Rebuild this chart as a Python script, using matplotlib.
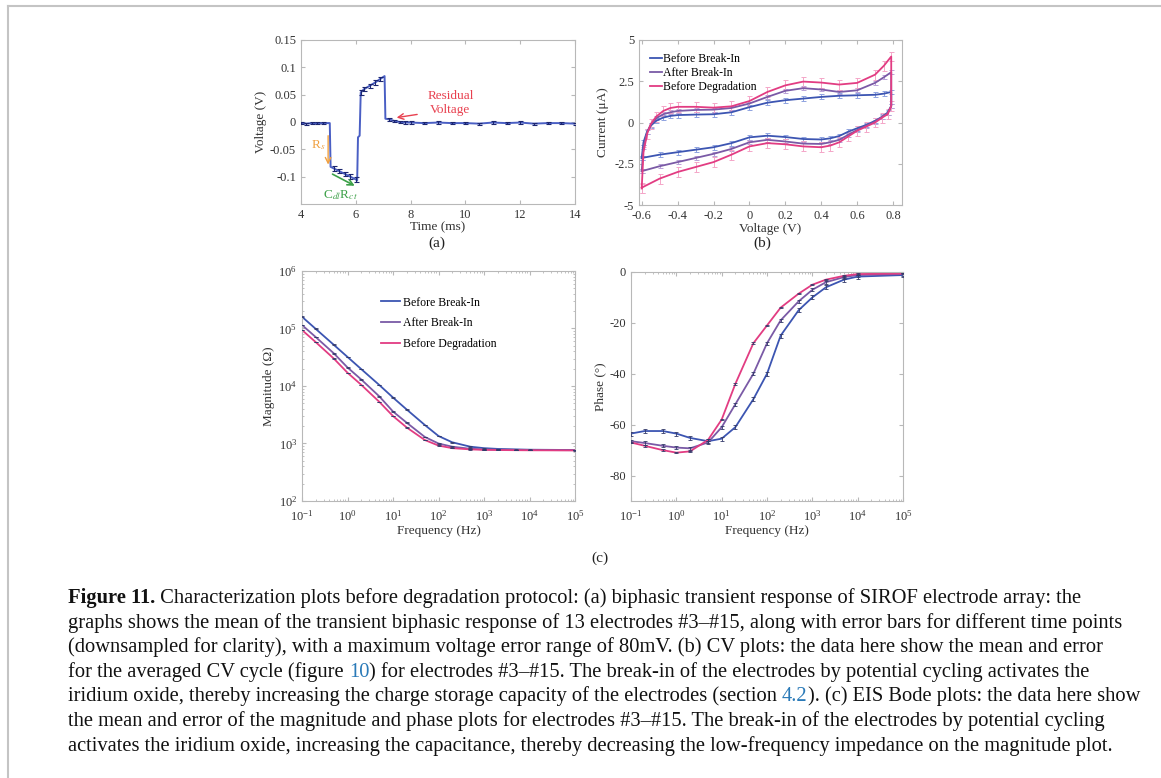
import matplotlib
matplotlib.use("Agg")
import matplotlib.pyplot as plt
from matplotlib.lines import Line2D
import numpy as np

plt.rcParams['font.family'] = ['Liberation Serif', 'DejaVu Serif']
plt.rcParams['mathtext.fontset'] = 'stix'
plt.rcParams['axes.unicode_minus'] = False

# ---- (a) biphasic transient ----
t_ms = [4.0, 4.2, 4.4, 4.6, 4.8, 5.0, 5.05, 5.08, 5.2, 5.4, 5.6, 5.8, 6.0, 6.05,
        6.08, 6.14, 6.18, 6.3, 6.5, 6.7, 6.9, 7.05, 7.08, 7.2, 7.4, 7.6, 7.8, 8.0,
        8.5, 9.0, 9.5, 10.0, 10.5, 11.0, 11.5, 12.0, 12.5, 13.0, 13.5, 14.0]
volt = [-0.002, -0.003, -0.002, -0.002, -0.002, -0.002, -0.002, -0.082, -0.085, -0.090,
        -0.095, -0.100, -0.105, -0.107, -0.028, -0.025, 0.054, 0.060, 0.066, 0.072,
        0.079, 0.084, 0.006, 0.005, 0.002, 0.0, -0.001, -0.001, -0.002, -0.001,
        -0.002, -0.002, -0.003, -0.001, -0.002, -0.001, -0.003, -0.002, -0.002, -0.003]
volt_err = [0.002, 0.002, 0.002, 0.002, 0.002, np.nan, np.nan, np.nan, 0.004, 0.004,
            0.004, 0.004, 0.004, np.nan, np.nan, np.nan, 0.004, 0.004, 0.004, 0.004,
            0.004, np.nan, np.nan, 0.003, 0.002, 0.002, 0.002, 0.002, 0.002, 0.002,
            0.002, 0.002, 0.002, 0.002, 0.002, 0.002, 0.002, 0.002, 0.002, 0.002]

# ---- (b) CV loops: forward scan then reverse scan ----
cv_v = [-0.60, -0.59, -0.57, -0.55, -0.52, -0.48, -0.44, -0.40, -0.30, -0.20, -0.10,
        0.00, 0.10, 0.20, 0.30, 0.40, 0.50, 0.60, 0.70, 0.75, 0.79,
        0.79, 0.77, 0.74, 0.70, 0.65, 0.60, 0.55, 0.50, 0.45, 0.40, 0.30, 0.20,
        0.10, 0.00, -0.10, -0.20, -0.30, -0.40, -0.50, -0.60]
cv_before = [-2.15, -1.2, -0.55, -0.2, 0.1, 0.3, 0.4, 0.45, 0.48, 0.5, 0.62,
             0.93, 1.2, 1.35, 1.45, 1.55, 1.62, 1.65, 1.68, 1.75, 1.85,
             1.0, 0.6, 0.35, 0.1, -0.15, -0.35, -0.56, -0.82, -0.96, -1.03, -1.0, -0.88,
             -0.8, -0.9, -1.25, -1.5, -1.65, -1.8, -1.95, -2.15]
cv_after = [-2.95, -1.5, -0.6, -0.15, 0.25, 0.5, 0.62, 0.7, 0.76, 0.78, 0.88,
            1.15, 1.55, 1.92, 2.08, 2.0, 1.85, 1.95, 2.4, 2.75, 3.05,
            1.0, 0.55, 0.35, 0.05, -0.2, -0.45, -0.75, -1.05, -1.2, -1.3, -1.28, -1.15,
            -1.05, -1.2, -1.6, -1.9, -2.15, -2.4, -2.65, -2.95]
cv_degr = [-4.0, -1.8, -0.7, -0.1, 0.35, 0.7, 0.88, 0.95, 0.95, 0.9, 0.98,
           1.3, 1.85, 2.25, 2.48, 2.42, 2.3, 2.4, 2.9, 3.45, 4.0,
           1.0, 0.5, 0.3, 0.0, -0.25, -0.5, -0.85, -1.2, -1.4, -1.5, -1.45, -1.32,
           -1.25, -1.45, -1.95, -2.4, -2.7, -3.0, -3.4, -3.95]
cv_err = [0.15, 0.12, 0.3]

# ---- (c) EIS Bode ----
freq = [0.1, 0.2, 0.5, 1, 2, 5, 10, 20, 50, 100, 200, 500, 1000, 2000, 5000, 1e4, 1e5]
mag_before = [1.6e5, 9.85e4, 5.2e4, 3.2e4, 1.97e4, 1.04e4, 6.3e3, 3.9e3, 2.1e3, 1.35e3,
              1.05e3, 880, 830, 805, 790, 780, 770]
mag_after = [1.15e5, 7.1e4, 3.7e4, 2.1e4, 1.3e4, 6.6e3, 3.6e3, 2.3e3, 1.3e3, 1.0e3,
             880, 810, 790, 780, 775, 770, 765]
mag_degr = [9.4e4, 5.8e4, 3.0e4, 1.7e4, 1.05e4, 5.3e3, 3.0e3, 1.9e3, 1.15e3, 920,
            830, 790, 775, 770, 765, 762, 758]
ph_before = [-63.5, -62.5, -62.5, -63.5, -65.2, -66.5, -65.5, -61, -50, -40, -25, -15,
             -10, -6, -3, -1.8, -1.2]
ph_after = [-66.5, -67.2, -68.3, -69, -69.3, -67, -61, -52, -40, -28, -19, -11.5,
            -7, -4, -2, -1.2, -0.8]
ph_degr = [-67, -68.3, -70, -71, -70.5, -66, -58, -44, -28, -21, -14, -8.5,
           -5, -3, -1.5, -0.8, -0.6]
ph_err = [0.8, 0.6, 0.3]

labels = ['Before Break-In', 'After Break-In', 'Before Degradation']
colors = ['#3c55b2', '#7a5aa6', '#e23c82']
err_colors = ['#8fa3e0', '#b9a2d8', '#f4a6c8']

W, H = 1161, 778
fig = plt.figure(figsize=(W / 100, H / 100), dpi=100)


def px_axes(l, t, r, b):
    return fig.add_axes([l / W, 1 - b / H, (r - l) / W, (b - t) / H])


def style(ax, pad=3.5):
    for s in ax.spines.values():
        s.set_color('#b8b8b8')
        s.set_linewidth(0.8)
    ax.tick_params(which='both', direction='in', top=True, right=True,
                   color='#b8b8b8', labelcolor='#333333', labelsize=9, pad=pad)
    ax.tick_params(which='major', length=3)
    ax.tick_params(which='minor', length=1.5)


lab_kw = dict(fontsize=9.5, color='#333333')

# (a)
ax1 = px_axes(301, 40, 575, 204)
ax1.plot(t_ms, volt, color='#4a5fc4', lw=1.4, zorder=2)
ax1.errorbar(t_ms, volt, yerr=volt_err, fmt='none', ecolor='#1c2670',
             elinewidth=0.8, capsize=1.8, capthick=0.8, zorder=3)
ax1.set_xlim(4, 14)
ax1.set_ylim(-0.15, 0.15)
ax1.set_xticks([4, 6, 8, 10, 12, 14])
ax1.set_yticks([-0.1, -0.05, 0, 0.05, 0.1, 0.15])
ax1.set_yticklabels(['-0.1', '-0.05', '0', '0.05', '0.1', '0.15'])
style(ax1)
ax1.set_xlabel('Time (ms)', labelpad=0, **lab_kw)
ax1.set_ylabel('Voltage (V)', labelpad=2, **lab_kw)
ax1.annotate('', xy=(7.39, 0.0073), xytext=(8.34, 0.0146),
             arrowprops=dict(arrowstyle='->', color='#e8404f', lw=1))
ax1.text(9.45, 0.035, 'Residual\nVoltage', color='#e8404f', fontsize=9.5,
         ha='center', va='center', linespacing=1.2)
ax1.annotate('', xy=(4.99, -0.083), xytext=(4.99, -0.020),
             arrowprops=dict(arrowstyle='->', color='#f0a040', lw=1))
ax1.text(4.88, -0.043, r'R$_{s}$', color='#f0a040', fontsize=9.5, ha='right', va='center')
ax1.annotate('', xy=(6.05, -0.119), xytext=(5.06, -0.093),
             arrowprops=dict(arrowstyle='->', color='#3ca048', lw=1.2))
ax1.text(5.45, -0.133, r'C$_{dl}$R$_{ct}$', color='#3ca048', fontsize=9.5,
         ha='center', va='center')

# (b)
ax2 = px_axes(639, 40, 902, 205)
for ys, c, ec, e, lab in zip([cv_before, cv_after, cv_degr], colors, err_colors, cv_err, labels):
    ax2.errorbar(cv_v, ys, yerr=e, fmt='none', ecolor=ec, elinewidth=0.7,
                 capsize=1.8, capthick=0.7, zorder=1)
    ax2.plot(cv_v, ys, color=c, lw=1.3, label=lab, zorder=2)
ax2.set_xlim(-0.615, 0.85)
ax2.set_ylim(-5, 5)
ax2.set_xticks([-0.6, -0.4, -0.2, 0, 0.2, 0.4, 0.6, 0.8])
ax2.set_xticklabels(['-0.6', '-0.4', '-0.2', '0', '0.2', '0.4', '0.6', '0.8'])
ax2.set_yticks([-5, -2.5, 0, 2.5, 5])
ax2.set_yticklabels(['-5', '-2.5', '0', '2.5', '5'])
style(ax2)
ax2.set_xlabel('Voltage (V)', labelpad=1, **lab_kw)
ax2.set_ylabel('Current (μA)', labelpad=4, **lab_kw)
ax2.legend(loc='upper left', frameon=False, fontsize=8.5, handlelength=1.0,
           handletextpad=0.15, labelspacing=0.15, borderaxespad=0.3,
           bbox_to_anchor=(0.01, 0.97))

# (c) magnitude
ax3 = px_axes(302, 271, 575, 501)
for ys, c, e, lab in zip([mag_before, mag_after, mag_degr], colors, ph_err, labels):
    ax3.plot(freq, ys, color=c, lw=1.3, label=lab, zorder=2)
    ax3.errorbar(freq, ys, yerr=np.array(ys) * 0.02 * e, fmt='none', ecolor='#333a6a',
                 elinewidth=0.6, capsize=1.5, capthick=0.6, zorder=3)
ax3.set_xscale('log')
ax3.set_yscale('log')
ax3.set_xlim(0.1, 1e5)
ax3.set_ylim(1e2, 1e6)
style(ax3)
ax3.tick_params(axis='x', which='both', pad=6)
ax3.set_xlabel('Frequency (Hz)', labelpad=1, **lab_kw)
ax3.set_ylabel('Magnitude (Ω)', labelpad=2, **lab_kw)
ax3.legend(loc='upper left', frameon=False, fontsize=8.5, handlelength=1.6,
           handletextpad=0.3, labelspacing=0.75, bbox_to_anchor=(0.25, 0.935))

# (c) phase
ax4 = px_axes(631, 272, 903, 501)
for ys, c, e in zip([ph_before, ph_after, ph_degr], colors, ph_err):
    ax4.plot(freq, ys, color=c, lw=1.3, zorder=2)
    ax4.errorbar(freq, ys, yerr=e, fmt='none', ecolor='#333a6a',
                 elinewidth=0.6, capsize=1.5, capthick=0.6, zorder=3)
ax4.set_xscale('log')
ax4.set_xlim(0.1, 1e5)
ax4.set_ylim(-90, 0)
ax4.set_yticks([-80, -60, -40, -20, 0])
style(ax4)
ax4.tick_params(axis='x', which='both', pad=6)
ax4.set_xlabel('Frequency (Hz)', labelpad=1, **lab_kw)
ax4.set_ylabel('Phase (°)', labelpad=2, **lab_kw)

# panel tags
fig.text(437 / W, 1 - 243 / H, '(a)', fontsize=11, ha='center', va='center', color='#222222')
fig.text(762 / W, 1 - 243 / H, '(b)', fontsize=11, ha='center', va='center', color='#222222')
fig.text(600 / W, 1 - 558 / H, '(c)', fontsize=11, ha='center', va='center', color='#222222')

# page frame (left and top edges only)
fig.add_artist(Line2D([8 / W, 8 / W], [0, 1 - 6 / H], transform=fig.transFigure,
                      color='#c4c4c4', lw=1.5))
fig.add_artist(Line2D([8 / W, 1], [1 - 6 / H, 1 - 6 / H], transform=fig.transFigure,
                      color='#c4c4c4', lw=1.5))

# caption
cap_fs = 14.8
blue_ref = '#2a7ab8'
caption = [
    [('Figure 11.', 'bold', '#111111'),
     (' Characterization plots before degradation protocol: (a) biphasic transient response of SIROF electrode array: the', 'normal', '#111111')],
    [('graphs shows the mean of the transient biphasic response of 13 electrodes #3–#15, along with error bars for different time points', 'normal', '#111111')],
    [('(downsampled for clarity), with a maximum voltage error range of 80mV. (b) CV plots: the data here show the mean and error', 'normal', '#111111')],
    [('for the averaged CV cycle (figure ', 'normal', '#111111'), ('10', 'normal', blue_ref),
     (') for electrodes #3–#15. The break-in of the electrodes by potential cycling activates the', 'normal', '#111111')],
    [('iridium oxide, thereby increasing the charge storage capacity of the electrodes (section ', 'normal', '#111111'),
     ('4.2', 'normal', blue_ref),
     ('). (c) EIS Bode plots: the data here show', 'normal', '#111111')],
    [('the mean and error of the magnitude and phase plots for electrodes #3–#15. The break-in of the electrodes by potential cycling', 'normal', '#111111')],
    [('activates the iridium oxide, increasing the capacitance, thereby decreasing the low-frequency impedance on the magnitude plot.', 'normal', '#111111')],
]
renderer = fig.canvas.get_renderer()


def text_width(s, weight):
    t1 = fig.text(0, 0, s + '|', fontsize=cap_fs, fontweight=weight)
    t2 = fig.text(0, 0, '|', fontsize=cap_fs, fontweight=weight)
    w = t1.get_window_extent(renderer).width - t2.get_window_extent(renderer).width
    t1.remove()
    t2.remove()
    return w


y0 = 603
for i, parts in enumerate(caption):
    x = 68
    y = y0 + i * 24.6
    for s, weight, c in parts:
        fig.text(x / W, 1 - y / H, s, fontsize=cap_fs, fontweight=weight, color=c,
                 ha='left', va='baseline')
        x += text_width(s, weight)

fig.savefig('out.png', dpi=100)
